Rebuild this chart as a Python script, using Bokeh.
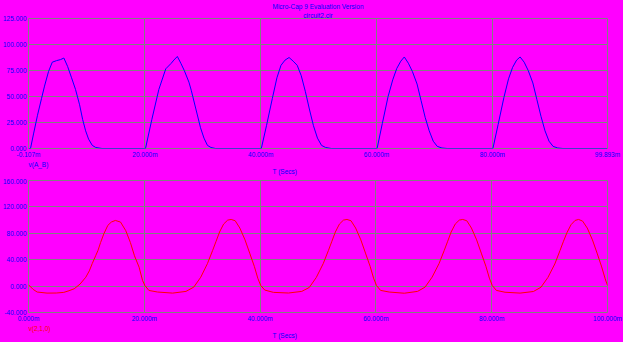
from bokeh.plotting import figure
from bokeh.models import Range1d, FixedTicker, Title
from bokeh.layouts import column
from bokeh.embed import file_html
from bokeh.resources import INLINE

# ---------------- data ----------------
title_lines = ["Micro-Cap 9 Evaluation Version", "circuit2.cir"]
x_axis_title = "T (Secs)"
top_trace_name = "v(A_B)"
bot_trace_name = "v(2,1,0)"

# top trace: time (ms), voltage
top_t = [-0.107, 0.24, 0.76, 1.45, 2.14, 2.66, 3.35, 4.0, 4.74, 5.43, 6.0, 6.64, 7.33, 8.02, 8.72,
         9.24, 9.76, 10.27, 10.91, 11.5, 12.6,
         20.1, 21.2, 22.4, 23.6, 24.5, 25.0, 25.6, 26.2, 26.8, 27.6, 28.0, 28.8, 29.6, 30.2, 30.8, 31.4, 32.2,
         40.1, 41.0, 42.0, 42.8, 43.5, 44.2, 44.9, 45.6, 46.3, 47.0, 47.7, 48.4, 49.1, 49.8, 50.5, 51.2, 52.2,
         60.1, 61.0, 62.0, 62.8, 63.5, 64.2, 64.8, 65.5, 66.2, 67.0, 67.7, 68.4, 69.1, 69.8, 70.5, 71.3, 72.2,
         80.1, 81.0, 82.0, 82.8, 83.5, 84.2, 84.8, 85.5, 86.2, 87.0, 87.7, 88.4, 89.1, 89.8, 90.5, 91.3, 92.2,
         99.893]
top_v = [0, 0, 14, 32, 48, 60, 74, 83, 84.5, 85.5, 87, 79, 68, 56.7, 42,
         28, 17, 9, 3, 1, 0,
         0, 28, 56.7, 76.6, 81.7, 85, 88.5, 82, 75, 63.8, 56, 38, 20, 10, 3, 1, 0,
         0, 22, 48, 68, 80, 85, 87.5, 84, 80, 70, 55, 38, 22, 10, 3, 1, 0,
         0, 24, 50, 66, 77, 84, 88, 82, 74, 62, 46, 30, 17, 7, 2, 0.5, 0,
         0, 23, 49, 67, 78, 85, 88, 83, 75, 63, 47, 31, 17, 7, 2, 0.5, 0,
         0]

# bottom trace: time (ms), voltage
bot_t = [0.0, 0.8, 1.5, 3.2, 4.8, 6.1, 7.0, 7.9, 8.9, 9.9, 10.5, 11.0, 11.6, 12.0, 12.45, 13.0, 13.7,
         14.3, 15.0, 15.9, 16.8, 17.6, 18.3, 19.1, 19.7, 20.1,
         20.8, 22.3, 24.9, 27.2, 28.55, 29.75, 30.9, 31.8, 32.4, 33.0, 33.7, 34.4, 35.0, 35.7, 36.5,
         37.4, 38.2, 39.0, 39.6, 40.1,
         40.8, 42.3, 44.9, 47.2, 48.5, 49.7, 50.9, 51.8, 52.4, 53.0, 53.7, 54.4, 55.0, 55.7, 56.5,
         57.4, 58.2, 59.0, 59.6, 60.1,
         60.8, 62.3, 64.9, 67.2, 68.5, 69.7, 70.9, 71.8, 72.4, 73.0, 73.7, 74.4, 75.0, 75.7, 76.5,
         77.4, 78.2, 79.0, 79.6, 80.1,
         80.8, 82.3, 84.9, 87.2, 88.5, 89.7, 90.9, 91.8, 92.4, 93.0, 93.7, 94.4, 95.0, 95.7, 96.5,
         97.4, 98.2, 99.0, 99.6, 100.0]
bot_v = [2, -5, -9, -10.6, -10.5, -9.5, -7, -4, 3, 13.5, 23, 34, 46, 54, 66, 79, 92,
         97, 99.5, 97, 84, 66, 46, 28.7, 8.5, 0.9,
         -6.6, -9, -10.6, -8, -1.5, 13.5, 34, 54, 68, 82, 94, 100, 101, 99, 88,
         70, 50, 30, 12, 1,
         -6, -9.5, -10.5, -8, -2, 13, 34, 54, 68, 82, 94, 100, 101, 99, 88,
         70, 50, 30, 12, 1,
         -6.5, -9, -10.8, -8, -1.5, 13.5, 34, 54, 68, 82, 94, 100, 101, 99, 88,
         70, 50, 30, 12, 1,
         -6.5, -9.3, -10.6, -8.2, -1.8, 13, 33.5, 54, 68, 81, 93, 99.5, 101, 98.5, 88,
         70, 50, 29, 11, 1]

top_xticks = [-0.107, 20, 40, 60, 80, 99.893]
top_xlabels = ["-0.107m", "20.000m", "40.000m", "60.000m", "80.000m", "99.893m"]
top_yticks = [0, 25, 50, 75, 100, 125]
top_ylabels = ["0.000", "25.000", "50.000", "75.000", "100.000", "125.000"]

bot_xticks = [0, 20, 40, 60, 80, 100]
bot_xlabels = ["0.000m", "20.000m", "40.000m", "60.000m", "80.000m", "100.000m"]
bot_yticks = [-40, 0, 40, 80, 120, 160]
bot_ylabels = ["-40.000", "0.000", "40.000", "80.000", "120.000", "160.000"]

# ---------------- style ----------------
MAG = "#ff00ff"
GRAY = "#808080"
BLUE = "#0000ff"
RED = "#ff0000"
FONT = "Liberation Sans"
FS = "6.5px"


def make_fig(height, b_top, b_bottom, xr, yr, xticks, xlabels, yticks, ylabels):
    p = figure(width=623, height=height, x_range=Range1d(*xr), y_range=Range1d(*yr),
               output_backend="svg", toolbar_location=None,
               min_border_left=28, min_border_right=16,
               min_border_top=b_top, min_border_bottom=b_bottom)
    p.background_fill_color = MAG
    p.border_fill_color = MAG
    p.outline_line_color = GRAY
    p.outline_line_width = 1
    p.xaxis.ticker = FixedTicker(ticks=xticks)
    p.yaxis.ticker = FixedTicker(ticks=yticks)
    p.xaxis.major_label_overrides = {t: s for t, s in zip(xticks, xlabels)}
    p.yaxis.major_label_overrides = {t: s for t, s in zip(yticks, ylabels)}
    for ax in (p.xaxis, p.yaxis):
        ax.axis_line_color = None
        ax.major_tick_line_color = None
        ax.minor_tick_line_color = None
        ax.major_tick_out = 0
        ax.major_tick_in = 0
        ax.major_label_text_font = FONT
        ax.major_label_text_font_size = FS
        ax.major_label_text_color = BLUE
        ax.major_label_standoff = 2
    p.grid.grid_line_color = GRAY
    p.grid.grid_line_alpha = 1.0
    p.grid.grid_line_width = 1
    return p


def title(p, text, side, align="center", offset=0, color=BLUE, standoff=0):
    p.add_layout(Title(text=text, align=align, offset=offset, text_color=color,
                       text_font=FONT, text_font_size=FS, text_font_style="normal",
                       standoff=standoff), side)


# top panel
p1 = make_fig(178, 18, 30, (-0.107, 99.893), (0, 125), top_xticks, top_xlabels, top_yticks, top_ylabels)
p1.line(top_t, top_v, line_color=BLUE, line_width=1)
title(p1, title_lines[1], "above")
title(p1, title_lines[0], "above")
title(p1, top_trace_name, "below", align="left", offset=0, standoff=-4)
title(p1, x_axis_title, "below", align="left", offset=244, standoff=0)

# bottom panel
p2 = make_fig(164, 2, 30, (0, 100), (-40, 160), bot_xticks, bot_xlabels, bot_yticks, bot_ylabels)
p2.line(bot_t, bot_v, line_color=RED, line_width=1)
title(p2, bot_trace_name, "below", align="left", offset=0, color=RED, standoff=-4)
title(p2, x_axis_title, "below", align="left", offset=244, standoff=0)

layout = column(p1, p2, spacing=0, styles={"background-color": MAG})
open("out.html", "w").write(file_html(layout, INLINE))
